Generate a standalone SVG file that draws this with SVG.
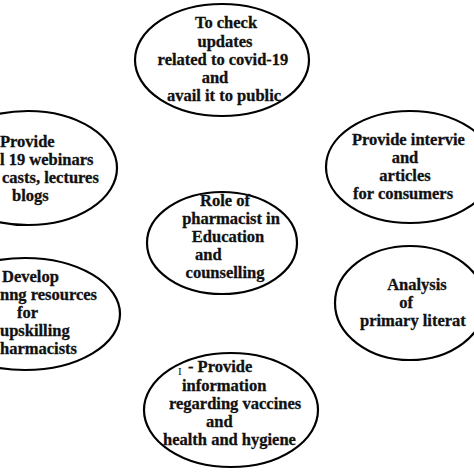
<svg xmlns="http://www.w3.org/2000/svg" width="474" height="474" viewBox="0 0 474 474">
<style>
.e{fill:#fff;stroke:#000;stroke-width:2.2}
text{font-family:"Liberation Serif","Times New Roman",serif;font-weight:bold;font-size:16.5px;fill:#111;stroke:#111;stroke-width:0.3}
.m{text-anchor:middle}
</style>
<rect width="474" height="474" fill="#fff"/>
<g id="top">
<ellipse class="e" cx="222" cy="60" rx="87" ry="56"/>
<text class="m" x="226" y="28">To check</text>
<text class="m" x="225" y="47">updates</text>
<text class="m" x="223" y="65">related to covid-19</text>
<text class="m" x="215" y="83">and</text>
<text class="m" x="224" y="101">avail it to public</text>
</g>
<g id="left-top">
<ellipse class="e" cx="28" cy="168" rx="89" ry="57"/>
<text x="0" y="147">Provide</text>
<text x="0" y="165">l 19 webinars</text>
<text x="2" y="183">casts, lectures</text>
<text x="12" y="201">blogs</text>
</g>
<g id="right-top">
<ellipse class="e" cx="410" cy="167" rx="84" ry="56"/>
<text x="352" y="145">Provide intervie</text>
<text class="m" x="405" y="163">and</text>
<text class="m" x="405" y="181">articles</text>
<text x="353" y="199">for consumers</text>
</g>
<g id="center">
<ellipse class="e" cx="222" cy="243" rx="75" ry="51"/>
<text class="m" x="225" y="206">Role of</text>
<text class="m" x="231" y="224">pharmacist in</text>
<text class="m" x="228" y="242">Education</text>
<text x="195" y="260">and</text>
<text class="m" x="225" y="278">counselling</text>
</g>
<g id="left-bottom">
<ellipse class="e" cx="25" cy="314" rx="95" ry="56"/>
<text x="2" y="282">Develop</text>
<text x="0" y="300">nng resources</text>
<text x="17" y="318">for</text>
<text x="0" y="336">upskilling</text>
<text x="0" y="354">harmacists</text>
</g>
<g id="right-bottom">
<ellipse class="e" cx="410" cy="303" rx="75" ry="57"/>
<text class="m" x="417" y="290">Analysis</text>
<text class="m" x="406" y="308">of</text>
<text x="360" y="326">primary literat</text>
</g>
<g id="bottom">
<ellipse class="e" cx="231" cy="410" rx="87" ry="57"/>
<text x="178" y="375" style="font-weight:normal;font-size:11px;stroke-width:0">I</text>
<text x="188" y="372">- Provide</text>
<text x="182" y="391">information</text>
<text x="169" y="409">regarding vaccines</text>
<text x="206" y="427">and</text>
<text x="163" y="445">health and hygiene</text>
</g>
<g id="connectors"></g>
</svg>
